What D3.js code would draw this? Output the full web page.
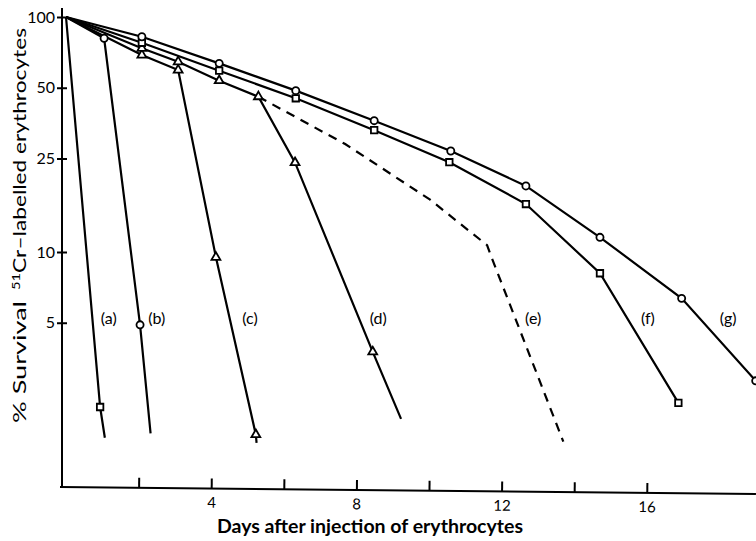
<!DOCTYPE html>
<html>
<head>
<meta charset="utf-8">
<script src="https://cdn.jsdelivr.net/npm/d3@7"></script>
<style>
  body { margin: 0; background: #fff; }
  svg { display: block; }
  text { font-family: Lato, "Open Sans", sans-serif; fill: #000; }
</style>
</head>
<body>
<svg id="chart" width="756" height="541"></svg>
<script>
// curve names and the symbol used for each
const curveNames = ["a", "b", "c", "d", "e", "f", "g"];
const curveShapes = ["square", "circle", "triangle", "triangle", "none", "square", "circle"];

// days after injection / % survival, observed = 1 where a symbol is drawn
const daysA = [0, 0.94, 1.07];
const survA = [100, 2.19, 1.62];
const obsA  = [0, 1, 0];

const daysB = [0, 1.05, 2.04, 2.33];
const survB = [100, 81.2, 4.9, 1.69];
const obsB  = [0, 1, 1, 0];

const daysC = [0, 2.09, 3.09, 4.13, 5.23, 5.25];
const survC = [100, 68.9, 59.5, 9.5, 1.67, 1.54];
const obsC  = [0, 1, 1, 1, 1, 0];

const daysD = [0, 2.09, 3.09, 4.22, 5.30, 6.31, 8.45, 9.23];
const survD = [100, 73.6, 64.5, 53.6, 45.8, 24.0, 3.76, 1.95];
const obsD  = [0, 1, 1, 1, 1, 1, 1, 0];

const daysE = [5.30, 7.69, 10.03, 11.19, 11.60, 11.71, 13.70];
const survE = [45.8, 28.8, 16.7, 12.0, 10.7, 9.6, 1.56];
const obsE  = [0, 0, 0, 0, 0, 0, 0];

const daysF = [0, 2.09, 4.22, 6.33, 8.49, 10.56, 12.67, 14.71, 16.87];
const survF = [100, 77.7, 59.1, 45.1, 33.0, 24.1, 16.0, 8.12, 2.28];
const obsF  = [0, 1, 1, 1, 1, 1, 1, 1, 1];

const daysG = [0, 2.09, 4.22, 6.33, 8.49, 10.60, 12.67, 14.71, 16.96, 19.0];
const survG = [100, 82.4, 63.5, 48.6, 36.2, 26.9, 19.1, 11.55, 6.35, 2.83];
const obsG  = [0, 1, 1, 1, 1, 1, 1, 1, 1, 1];

// where the (a)...(g) labels sit
const labelDays = [1.18, 2.5, 5.07, 8.6, 12.87, 16.03, 18.24];
const labelSurvival = 5.2;

const xTicks = [2, 4, 6, 8, 10, 12, 14, 16];
const xTickLabels = [4, 8, 12, 16];
const yTicks = [100, 50, 25, 10, 5];

const svg = d3.select("#chart");

const x = d3.scaleLinear().domain([0, 19]).range([66, 755.7]);
const y = d3.scaleLog().domain([1, 100]).range([487, 17]);

const curves = [
  [daysA, survA, obsA], [daysB, survB, obsB], [daysC, survC, obsC],
  [daysD, survD, obsD], [daysE, survE, obsE], [daysF, survF, obsF],
  [daysG, survG, obsG]
].map((c, i) => ({
  name: curveNames[i],
  shape: curveShapes[i],
  pts: c[0].map((d, j) => ({ day: d, surv: c[1][j], obs: c[2][j] }))
}));

// x axis (the original is drawn slightly askew)
const xg = svg.append("g")
  .attr("transform", "translate(0,487) rotate(0.58,60,0)")
  .call(d3.axisBottom(x).tickValues(xTicks).tickSize(-10)
    .tickFormat(d => xTickLabels.includes(d) ? d : ""));
xg.select(".domain").remove();
xg.append("line").attr("x1", 60).attr("x2", 756).attr("stroke", "#000").attr("stroke-width", 2);
xg.selectAll(".tick line").attr("stroke-width", 2);
xg.selectAll(".tick text").attr("font-size", 15).attr("dy", "0.35em").attr("y", 14);

// y axis
const yg = svg.append("g")
  .attr("transform", "translate(62,0)")
  .call(d3.axisLeft(y).tickValues(yTicks).tickSize(4).tickFormat(d3.format("d")));
yg.select(".domain").remove();
yg.append("line").attr("y1", 8).attr("y2", 488).attr("stroke", "#000").attr("stroke-width", 2);
yg.selectAll(".tick line").attr("x1", -5).attr("x2", 5).attr("stroke-width", 2);
yg.selectAll(".tick text").attr("font-size", 16).attr("x", -7);

// curves
const line = d3.line().x(d => x(d.day)).y(d => y(d.surv));

svg.append("g").selectAll("path")
  .data(curves)
  .join("path")
  .attr("d", d => line(d.pts))
  .attr("fill", "none")
  .attr("stroke", "#000")
  .attr("stroke-width", 2.2)
  .attr("stroke-dasharray", d => d.shape === "none" ? "9,7" : null);

const symbolType = { circle: d3.symbolCircle, square: d3.symbolSquare, triangle: d3.symbolTriangle };
const symbolSize = { circle: 40, square: 42, triangle: 34 };

curves.filter(c => c.shape !== "none").forEach(c => {
  svg.append("g").selectAll("path")
    .data(c.pts.filter(p => p.obs))
    .join("path")
    .attr("transform", p => `translate(${x(p.day)},${y(p.surv)})`)
    .attr("d", d3.symbol(symbolType[c.shape], symbolSize[c.shape]))
    .attr("fill", "#fff")
    .attr("stroke", "#000")
    .attr("stroke-width", 1.8);
});

// curve labels
svg.append("g").selectAll("text")
  .data(curveNames)
  .join("text")
  .attr("x", (d, i) => x(labelDays[i]))
  .attr("y", y(labelSurvival))
  .attr("dy", "0.35em")
  .attr("text-anchor", "middle")
  .attr("font-size", 16)
  .text(d => `(${d})`);

// axis titles
svg.append("text")
  .attr("x", 370).attr("y", 533)
  .attr("text-anchor", "middle")
  .attr("font-size", 18).attr("font-weight", "bold")
  .attr("textLength", 306).attr("lengthAdjust", "spacingAndGlyphs")
  .text("Days after injection of erythrocytes");

svg.append("text")
  .attr("transform", "translate(26,423) rotate(-90)")
  .attr("font-size", 17)
  .attr("textLength", 122).attr("lengthAdjust", "spacingAndGlyphs")
  .text("% Survival");

const yt = svg.append("text")
  .attr("transform", "translate(26,290) rotate(-90)")
  .attr("font-size", 17)
  .attr("textLength", 262).attr("lengthAdjust", "spacingAndGlyphs");
yt.append("tspan").attr("font-size", 11).attr("dy", -6).text("51");
yt.append("tspan").attr("dy", 6).text("Cr\u2013labelled  erythrocytes");
</script>
</body>
</html>
